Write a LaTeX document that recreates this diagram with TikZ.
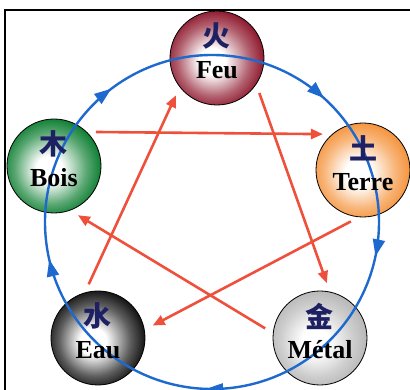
\documentclass[tikz,border=0pt]{standalone}
\usepackage{fontspec}
\setmainfont{Liberation Serif}
\newfontfamily\cjk{Noto Sans CJK SC}
\usepackage{tikz}
\usetikzlibrary{arrows.meta,decorations.markings}

\definecolor{feucol}{RGB}{145,30,50}
\definecolor{terrecol}{RGB}{245,150,65}
\definecolor{metalcol}{RGB}{185,185,185}
\definecolor{eaucol}{RGB}{25,25,25}
\definecolor{boiscol}{RGB}{20,130,55}
\definecolor{cyclecol}{RGB}{30,105,205}
\definecolor{ctrlcol}{RGB}{238,80,60}
\definecolor{inkcol}{RGB}{30,32,100}

\colorlet{orbcol}{gray}
\pgfdeclareradialshading[orbcol]{orb}{\pgfpoint{-3bp}{-2bp}}{%
  color(0bp)=(white); color(7bp)=(white); color(19bp)=(orbcol!70!white);
  color(26bp)=(orbcol); color(50bp)=(orbcol)}

\begin{document}
\begin{tikzpicture}[
    x=1pt,y=1pt,
    elem/.style={circle,draw=black,line width=0.8pt,minimum size=94pt,inner sep=0pt,
                 /utils/exec={\colorlet{orbcol}{#1}},shading=orb},
    hanzi/.style={font=\cjk\bfseries\fontsize{28}{28}\selectfont,text=inkcol},
    word/.style={font=\fontsize{26}{26}\selectfont\bfseries,anchor=base},
    cyc/.style={cyclecol,line width=2.4pt,postaction=decorate,decoration={markings,
        mark=at position 0.033 with {\arrow{Triangle[length=17pt,width=12pt]}},
        mark=at position 0.256 with {\arrow{Triangle[length=17pt,width=12pt]}},
        mark=at position 0.464 with {\arrow{Triangle[length=17pt,width=12pt]}},
        mark=at position 0.647 with {\arrow{Triangle[length=17pt,width=12pt]}},
        mark=at position 0.867 with {\arrow{Triangle[length=17pt,width=12pt]}}}},
    arr/.style={-{Triangle[length=12pt,width=10pt]},ctrlcol,line width=2.6pt,
                shorten <=9pt,shorten >=9pt}
]
\useasboundingbox (-212,-168) rectangle (198,222);
\draw[line width=1.5pt] (-207,-168) |- (198,212);

\coordinate (hub) at (0,0);
\node[elem=feucol] (feu) at (5,164) {};
\node[elem=terrecol] (terre) at (151,52) {};
\node[elem=metalcol] (metal) at (108,-116) {};
\node[elem=eaucol] (eau) at (-114,-116) {};
\node[elem=boiscol] (bois) at (-158,56) {};

% cycle of generation
\draw[cyc] ([xshift=167pt]hub) arc[start angle=0,end angle=-360,radius=167];

\node[hanzi] (feuh) at ([yshift=22pt]feu.center) {火};
\node[word] (feuw) at ([yshift=-21pt]feu.center) {Feu};
\node[hanzi] (terreh) at ([yshift=22pt]terre.center) {土};
\node[word] (terrew) at ([yshift=-21pt]terre.center) {Terre};
\node[hanzi] (metalh) at ([yshift=22pt]metal.center) {金};
\node[word] (metalw) at ([yshift=-21pt]metal.center) {Métal};
\node[hanzi] (eauh) at ([yshift=22pt]eau.center) {水};
\node[word] (eauw) at ([yshift=-21pt]eau.center) {Eau};
\node[hanzi] (boish) at ([yshift=22pt]bois.center) {木};
\node[word] (boisw) at ([yshift=-21pt]bois.center) {Bois};

% cycle of control
\draw[arr] (bois.46) -- (terre.131);
\draw[arr] (feu.-34) -- (metal.78);
\draw[arr] (terre.-95) -- (eau.10);
\draw[arr] (metal.174) -- (bois.-70);
\draw[arr] (eau.106) -- (feu.-142);
\end{tikzpicture}
\end{document}
